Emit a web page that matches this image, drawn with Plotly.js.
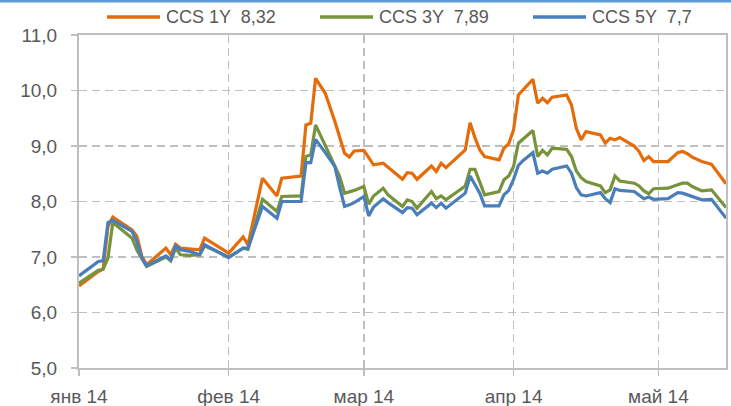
<!DOCTYPE html>
<html>
<head>
<meta charset="utf-8">
<script src="https://cdn.plot.ly/plotly-3.0.1.min.js"></script>
<style>
html,body{margin:0;padding:0;background:#fff;}
#chart{width:731px;height:406px;}
</style>
</head>
<body>
<div id="chart"></div>
<script>
const dates = [
 '2014-01-01','2014-01-05','2014-01-06','2014-01-07','2014-01-08','2014-01-12','2014-01-13','2014-01-14','2014-01-15',
 '2014-01-19','2014-01-20','2014-01-21','2014-01-22','2014-01-24','2014-01-26','2014-01-27',
 '2014-02-01','2014-02-04','2014-02-05','2014-02-08','2014-02-11','2014-02-12','2014-02-16','2014-02-17','2014-02-18',
 '2014-02-19','2014-02-21','2014-02-23','2014-02-24','2014-02-25','2014-02-26','2014-02-27',
 '2014-03-01','2014-03-02','2014-03-03','2014-03-05','2014-03-06','2014-03-09','2014-03-10','2014-03-11','2014-03-12',
 '2014-03-15','2014-03-16','2014-03-17','2014-03-18','2014-03-22','2014-03-23','2014-03-24','2014-03-25','2014-03-26',
 '2014-03-29','2014-03-30','2014-03-31',
 '2014-04-01','2014-04-02','2014-04-03','2014-04-05','2014-04-06','2014-04-07','2014-04-08','2014-04-09',
 '2014-04-12','2014-04-13','2014-04-14','2014-04-15','2014-04-16','2014-04-19','2014-04-20','2014-04-21','2014-04-22',
 '2014-04-23','2014-04-26','2014-04-27','2014-04-28','2014-04-29','2014-04-30',
 '2014-05-03','2014-05-05','2014-05-06','2014-05-07','2014-05-08','2014-05-10','2014-05-12','2014-05-15'
];
const ccs1y = [
 6.48,6.74,6.78,7.55,7.72,7.49,7.37,7.02,6.86,
 7.16,7.04,7.23,7.16,7.14,7.13,7.34,
 7.07,7.36,7.22,8.42,8.10,8.42,8.46,9.38,9.41,
 10.22,9.95,9.44,9.15,8.87,8.80,8.91,
 8.92,8.79,8.66,8.69,8.62,8.40,8.52,8.51,8.40,
 8.64,8.54,8.69,8.61,8.93,9.42,9.15,8.93,8.81,
 8.75,8.96,9.04,
 9.29,9.92,10.02,10.20,9.77,9.86,9.78,9.88,
 9.92,9.74,9.32,9.11,9.26,9.20,9.05,9.14,9.11,
 9.15,9.00,8.90,8.74,8.81,8.72,
 8.72,8.88,8.90,8.86,8.80,8.72,8.67,8.32
];
const ccs3y = [
 6.53,6.76,6.78,6.98,7.62,7.34,7.12,6.98,6.83,
 7.00,6.93,7.16,7.04,7.03,7.04,7.20,
 7.00,7.16,7.14,8.04,7.82,8.09,8.10,8.81,8.84,
 9.38,9.00,8.63,8.45,8.15,8.17,8.20,
 8.27,7.95,8.10,8.24,8.12,7.91,8.03,8.00,7.88,
 8.18,8.05,8.10,8.03,8.28,8.58,8.58,8.35,8.12,
 8.18,8.39,8.46,
 8.63,9.05,9.13,9.28,8.81,8.92,8.84,8.96,
 8.94,8.81,8.55,8.43,8.36,8.28,8.16,8.21,8.46,
 8.37,8.33,8.28,8.19,8.14,8.23,
 8.24,8.30,8.33,8.33,8.27,8.19,8.21,7.89
];
const ccs5y = [
 6.66,6.92,6.93,7.62,7.66,7.46,7.28,6.98,6.84,
 7.02,6.95,7.20,7.13,7.10,7.04,7.22,
 6.99,7.16,7.16,7.91,7.70,8.00,8.00,8.70,8.70,
 9.12,8.88,8.63,8.25,7.91,7.94,7.98,
 8.09,7.74,7.90,8.05,7.98,7.80,7.89,7.88,7.76,
 7.97,7.89,7.97,7.88,8.15,8.46,8.30,8.15,7.92,
 7.92,8.12,8.20,
 8.40,8.65,8.74,8.88,8.51,8.55,8.51,8.58,
 8.64,8.51,8.25,8.12,8.10,8.16,8.05,7.98,8.23,
 8.20,8.18,8.12,8.05,8.08,8.04,
 8.05,8.16,8.15,8.12,8.08,8.03,8.04,7.70
];
const seriesNames = ['CCS 1Y  8,32','CCS 3Y  7,89','CCS 5Y  7,7'];
const seriesColors = ['#e46c0a','#77933c','#4a7ebb'];
const monthTicks = ['2014-01-01','2014-02-01','2014-03-01','2014-04-01','2014-05-01'];
const monthLabels = ['янв 14','фев 14','мар 14','апр 14','май 14'];
const yTicks = [5,6,7,8,9,10,11];

const seriesValues = [ccs1y, ccs3y, ccs5y];
const traces = seriesValues.map((vals, i) => ({
  type: 'scatter',
  mode: 'lines',
  x: dates,
  y: vals,
  name: seriesNames[i],
  showlegend: false,
  line: {color: seriesColors[i], width: 3.2}
}));

const W = 731, H = 406;
const M = {l: 79, r: 5, t: 35, b: 38};
const plotW = W - M.l - M.r, plotH = H - M.t - M.b;
const px2x = px => (px - M.l) / plotW;
const py2y = py => (H - M.b - py) / plotH;

const gridCol = '#bfbfbf';
const fontFam = '"Liberation Sans", Arial, sans-serif';

// legend drawn as shapes + annotations
const legY = py2y(17);
const shapes = [{
  type: 'line', xref: 'paper', yref: 'paper',
  x0: -0.2, x1: 1.2, y0: py2y(1), y1: py2y(1),
  line: {color: '#5b9bd5', width: 3}
}];
const annotations = [];
seriesNames.forEach((nm, i) => {
  const off = 213 * i;
  shapes.push({
    type: 'line', xref: 'paper', yref: 'paper',
    x0: px2x(107 + off), x1: px2x(160 + off), y0: legY, y1: legY,
    line: {color: seriesColors[i], width: 3.5}
  });
  annotations.push({
    xref: 'paper', yref: 'paper',
    x: px2x(164 + off), y: legY,
    xanchor: 'left', yanchor: 'middle',
    text: nm, showarrow: false,
    font: {family: fontFam, size: 18, color: '#595959'}
  });
});

const layout = {
  width: W,
  height: H,
  margin: {l: M.l, r: M.r, t: M.t, b: M.b, pad: 0},
  paper_bgcolor: '#ffffff',
  plot_bgcolor: '#ffffff',
  separators: ', ',
  font: {family: fontFam, size: 19, color: '#595959'},
  showlegend: false,
  xaxis: {
    type: 'date',
    range: ['2014-01-01', '2014-05-15'],
    tickmode: 'array',
    tickvals: monthTicks,
    ticktext: monthLabels,
    showgrid: true,
    gridcolor: gridCol,
    griddash: '8px,5px',
    gridwidth: 1.5,
    showline: true,
    linecolor: gridCol,
    linewidth: 2,
    mirror: true,
    ticks: 'outside',
    ticklen: 6,
    tickcolor: gridCol,
    tickwidth: 1.5,
    ticklabelstandoff: 4,
    zeroline: false,
    automargin: false,
    fixedrange: true
  },
  yaxis: {
    range: [5, 11],
    tickmode: 'array',
    tickvals: yTicks,
    tickformat: '.1f',
    showgrid: true,
    gridcolor: gridCol,
    griddash: '8px,5px',
    gridwidth: 1.5,
    showline: true,
    linecolor: gridCol,
    linewidth: 2,
    mirror: true,
    ticks: 'outside',
    ticklen: 6,
    tickcolor: gridCol,
    tickwidth: 1.5,
    ticklabelstandoff: 10,
    zeroline: false,
    automargin: false,
    fixedrange: true
  },
  shapes: shapes,
  annotations: annotations
};

Plotly.newPlot('chart', traces, layout, {displayModeBar: false, staticPlot: true});
</script>
</body>
</html>
